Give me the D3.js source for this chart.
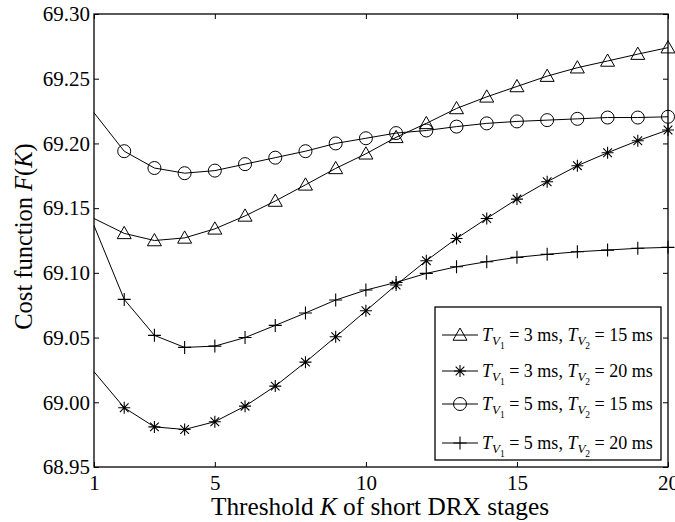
<!DOCTYPE html>
<html><head><meta charset="utf-8">
<script src="https://cdn.jsdelivr.net/npm/d3@7"></script>
<style>body{margin:0;background:#fff;} svg{display:block;} text{font-family:"Liberation Serif","Times New Roman",serif;fill:#000;}</style>
</head><body>
<svg id="c" width="675" height="522"></svg>
<script>
const K = d3.range(1, 21);
const xTicks = [1, 5, 10, 15, 20];
const yTicks = [68.95, 69.00, 69.05, 69.10, 69.15, 69.20, 69.25, 69.30];
const tri = [69.142, 69.1305, 69.125, 69.127, 69.134, 69.144, 69.1555, 69.168, 69.1807, 69.192, 69.2047, 69.2155, 69.227, 69.236, 69.244, 69.252, 69.2585, 69.2637, 69.269, 69.274];
const star = [69.0236, 68.9958, 68.981, 68.979, 68.985, 68.997, 69.0125, 69.031, 69.0506, 69.0707, 69.0906, 69.1094, 69.1266, 69.142, 69.157, 69.1704, 69.1828, 69.1928, 69.2021, 69.2104];
const circ = [69.2237, 69.194, 69.181, 69.177, 69.179, 69.184, 69.189, 69.194, 69.200, 69.204, 69.208, 69.210, 69.213, 69.2155, 69.217, 69.218, 69.219, 69.220, 69.220, 69.2206];
const plus = [69.1365, 69.0795, 69.0517, 69.0424, 69.0434, 69.050, 69.0594, 69.069, 69.079, 69.0867, 69.0926, 69.0996, 69.1047, 69.1086, 69.112, 69.1143, 69.1163, 69.1176, 69.119, 69.1197];
const legendLabels = [["3","15"],["3","20"],["5","15"],["5","20"]];
const seriesList = [
  {vals: tri, mark: "tri"},
  {vals: star, mark: "star"},
  {vals: circ, mark: "circ"},
  {vals: plus, mark: "plus"}
];

const svg = d3.select("#c");
const L = 94, R = 668, T = 14, B = 467;
const x = d3.scaleLinear().domain([1, 20]).range([L, R]);
const y = d3.scaleLinear().domain([68.95, 69.30]).range([B, T]);

function drawMarker(g, type, cx, cy) {
  if (type === "tri") {
    const s = 7;
    g.append("path").attr("d", `M${cx},${cy - s * 1.0}L${cx + s},${cy + s * 0.75}L${cx - s},${cy + s * 0.75}Z`)
      .attr("fill", "none").attr("stroke", "#000").attr("stroke-width", 1);
  } else if (type === "circ") {
    g.append("circle").attr("cx", cx).attr("cy", cy).attr("r", 6.5).attr("fill", "none").attr("stroke", "#000").attr("stroke-width", 1);
  } else if (type === "plus") {
    const s = 6.5;
    g.append("path").attr("d", `M${cx - s},${cy}L${cx + s},${cy}M${cx},${cy - s}L${cx},${cy + s}`).attr("stroke", "#000").attr("stroke-width", 1.1);
  } else if (type === "star") {
    const s = 6;
    const d = s * 0.72;
    g.append("path").attr("d", `M${cx - s},${cy}L${cx + s},${cy}M${cx},${cy - s}L${cx},${cy + s}M${cx - d},${cy - d}L${cx + d},${cy + d}M${cx - d},${cy + d}L${cx + d},${cy - d}`)
      .attr("stroke", "#000").attr("stroke-width", 1.1);
  }
}

// axes frame
svg.append("rect").attr("x", L).attr("y", T).attr("width", R - L).attr("height", B - T)
  .attr("fill", "none").attr("stroke", "#000").attr("stroke-width", 1.3);

const tl = 5;
const gx = svg.append("g").attr("transform", `translate(0,${B})`)
  .call(d3.axisBottom(x).tickValues(xTicks).tickSize(-tl).tickPadding(8).tickFormat(d3.format("d")));
const gxt = svg.append("g").attr("transform", `translate(0,${T})`)
  .call(d3.axisTop(x).tickValues(xTicks).tickSize(-tl).tickFormat(""));
const gy = svg.append("g").attr("transform", `translate(${L},0)`)
  .call(d3.axisLeft(y).tickValues(yTicks).tickSize(-tl).tickPadding(4).tickFormat(d3.format(".2f")));
const gyr = svg.append("g").attr("transform", `translate(${R},0)`)
  .call(d3.axisRight(y).tickValues(yTicks).tickSize(-tl).tickFormat(""));
[gx, gxt, gy, gyr].forEach(g => {
  g.select(".domain").remove();
  g.selectAll(".tick line").attr("stroke", "#000").attr("stroke-width", 1);
  g.selectAll("text").style("font-family", '"Liberation Serif","Times New Roman",serif').style("font-size", "21px").attr("fill", "#000");
});

// series
const line = d3.line().x((d, i) => x(K[i])).y(d => y(d));
seriesList.forEach(s => {
  svg.append("path").datum(s.vals).attr("d", line).attr("fill", "none").attr("stroke", "#000").attr("stroke-width", 1);
  const g = svg.append("g");
  s.vals.forEach((v, i) => { if (K[i] >= 2) drawMarker(g, s.mark, x(K[i]), y(v)); });
});

// axis labels
const xl = svg.append("text").attr("x", 380).attr("y", 515).attr("text-anchor", "middle").style("font-size", "25.3px");
xl.append("tspan").text("Threshold ");
xl.append("tspan").style("font-style", "italic").text("K");
xl.append("tspan").text(" of short DRX stages");

const yl = svg.append("text").attr("transform", `translate(32,${(T + B) / 2 - 4}) rotate(-90)`).attr("text-anchor", "middle").style("font-size", "24.5px");
yl.append("tspan").text("Cost function ");
yl.append("tspan").style("font-style", "italic").text("F");
yl.append("tspan").text("(");
yl.append("tspan").style("font-style", "italic").text("K");
yl.append("tspan").text(")");

// legend
const lg = svg.append("g");
lg.append("rect").attr("x", 435).attr("y", 307).attr("width", 226).attr("height", 153)
  .attr("fill", "#fff").attr("stroke", "#000").attr("stroke-width", 1.3);
const rowY = [335, 371, 404, 443];
seriesList.forEach((s, i) => {
  const yy = rowY[i];
  lg.append("line").attr("x1", 442).attr("x2", 478).attr("y1", yy).attr("y2", yy).attr("stroke", "#000").attr("stroke-width", 1);
  drawMarker(lg, s.mark, 460, yy);
  const t = lg.append("text").attr("x", 482).attr("y", yy + 6).style("font-size", "18px");
  const lab = legendLabels[i];
  t.append("tspan").style("font-style", "italic").text("T");
  t.append("tspan").style("font-style", "italic").style("font-size", "13px").attr("dy", 4).text("V");
  t.append("tspan").style("font-size", "9.5px").attr("dy", 4.4).text("1");
  t.append("tspan").attr("dy", -8.4).text(" = " + lab[0] + " ms, ");
  t.append("tspan").style("font-style", "italic").text("T");
  t.append("tspan").style("font-style", "italic").style("font-size", "13px").attr("dy", 4).text("V");
  t.append("tspan").style("font-size", "9.5px").attr("dy", 4.4).text("2");
  t.append("tspan").attr("dy", -8.4).text(" = " + lab[1] + " ms");
});
</script>
</body></html>
